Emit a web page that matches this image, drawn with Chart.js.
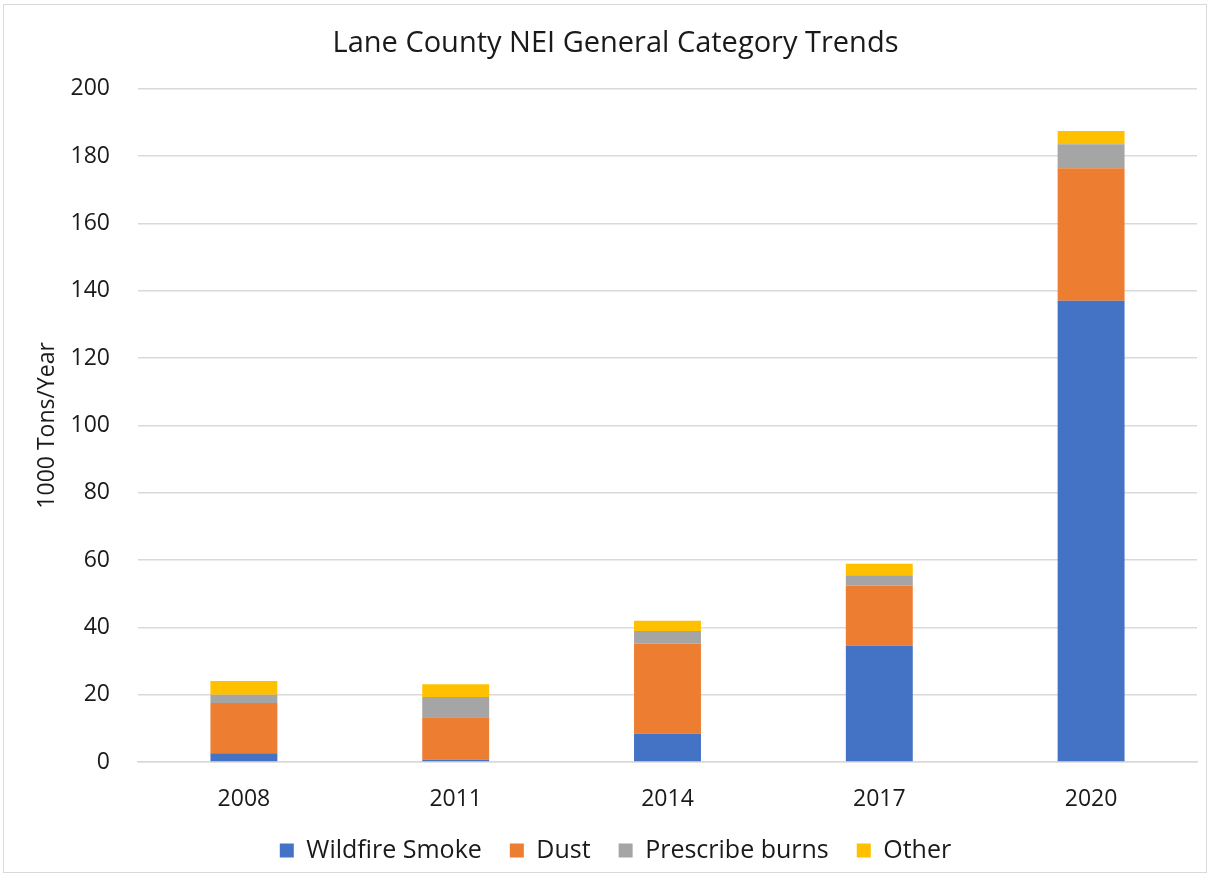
<!DOCTYPE html>
<html>
<head>
<meta charset="utf-8">
<script src="https://cdn.jsdelivr.net/npm/chart.js@4/dist/chart.umd.min.js"></script>
<style>
  html, body { margin: 0; padding: 0; background: #fff; }
  #wrap { position: relative; width: 1209px; height: 877px; }
  #frame { position: absolute; left: 3px; top: 4px; right: 2px; bottom: 4px; border: 1px solid #d9d9d9; pointer-events: none; }
  canvas { display: block; }
</style>
</head>
<body>
<div id="wrap">
  <canvas id="chart" width="1209" height="877"></canvas>
  <div id="frame"></div>
</div>
<script>
const years = ["2008", "2011", "2014", "2017", "2020"]

// thousand tons per year, by category
const wildfireSmoke = [2.6, 0.7, 8.4, 34.5, 137.0]
const dust = [14.9, 12.6, 26.8, 17.9, 39.4]
const prescribeBurns = [2.5, 6.0, 3.7, 3.1, 7.1]
const other = [4.1, 3.8, 3.1, 3.4, 4.0]

const yTicks = [0, 20, 40, 60, 80, 100, 120, 140, 160, 180, 200]

const font = "Open Sans"
const textColor = "#1a1a1a"
const gridColor = "#d9d9d9"

const series = [
  { label: "Wildfire Smoke", data: wildfireSmoke, color: "#4472C4" },
  { label: "Dust", data: dust, color: "#ED7D31" },
  { label: "Prescribe burns", data: prescribeBurns, color: "#A5A5A5" },
  { label: "Other", data: other, color: "#FFC000" }
]

new Chart(document.getElementById("chart"), {
  type: "bar",
  data: {
    labels: years,
    datasets: series.map(s => ({
      label: s.label,
      data: s.data,
      backgroundColor: s.color,
      borderWidth: 0,
      barPercentage: 0.316,
      categoryPercentage: 1
    }))
  },
  options: {
    responsive: false,
    animation: false,
    layout: {
      padding: { left: 34, right: 12, top: 0, bottom: 4 }
    },
    scales: {
      x: {
        stacked: true,
        clip: false,
        grid: { display: false, drawTicks: false },
        border: { color: gridColor, width: 1.5 },
        ticks: {
          color: textColor,
          font: { family: font, size: 23 },
          padding: 24
        },
        afterFit: (scale) => { scale.height = 48 }
      },
      y: {
        stacked: true,
        min: 0,
        max: 200,
        afterBuildTicks: (scale) => { scale.ticks = yTicks.map(v => ({ value: v })) },
        grid: { color: gridColor, lineWidth: 1.5, drawTicks: false },
        border: { display: false },
        ticks: {
          color: textColor,
          font: { family: font, size: 23 },
          padding: 28
        },
        title: {
          display: true,
          text: "1000 Tons/Year",
          color: textColor,
          font: { family: font, size: 23 },
          padding: 0
        },
        afterFit: (scale) => { scale.width = 104 }
      }
    },
    plugins: {
      title: {
        display: true,
        text: "Lane County NEI General Category Trends",
        color: textColor,
        font: { family: font, size: 29, weight: "normal" },
        padding: { top: 26, bottom: 28 }
      },
      legend: {
        position: "bottom",
        labels: {
          color: textColor,
          font: { family: font, size: 25 },
          boxWidth: 14,
          boxHeight: 14,
          padding: 28
        }
      },
      tooltip: { enabled: false }
    }
  }
})
</script>
</body>
</html>
